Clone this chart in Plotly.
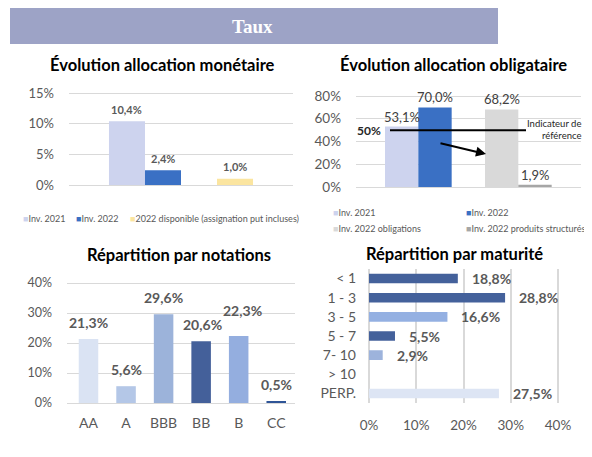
import plotly.graph_objects as go

# the figure is drawn 8 px in from the page corner; size it so the page does not overflow the window
OX, OY = 8, 8
W, H = 592 - 2 * OX, 457 - 2 * OY

# ---------------- data ----------------
mon_series = ["Inv. 2021", "Inv. 2022", "2022 disponible (assignation put incluses)"]
mon_x = ["Inv. 2021", "Inv. 2022", "2022 disponible"]
mon_order = ["Inv. 2021", "Inv. 2022", "·", "2022 disponible"]
mon_values = [10.4, 2.4, 1.0]
mon_colors = ["#CDD3EE", "#3A70C4", "#FBE5A0"]

obl_series = ["Inv. 2021", "Inv. 2022", "Inv. 2022 obligations", "Inv. 2022 produits structurés"]
obl_x = ["Inv. 2021", "Inv. 2022", "Inv. 2022 obligations", "Inv. 2022 produits structurés"]
obl_order = ["Inv. 2021", "Inv. 2022", "·", "Inv. 2022 obligations", "Inv. 2022 produits structurés"]
obl_values = [53.1, 70.0, 68.2, 1.9]
obl_colors = ["#CDD3EE", "#3A70C4", "#D9D9D9", "#A6A6A6"]
indicateur_ref = 50

not_cats = ["AA", "A", "BBB", "BB", "B", "CC"]
not_values = [21.3, 5.6, 29.6, 20.6, 22.3, 0.5]
not_colors = ["#DAE3F3", "#B4C7E7", "#9CB3DA", "#44609A", "#94AEDF", "#2F5597"]
not_label_dy = [17, 17, 17, 17, 26, 17]   # label offsets (px) above bar tops
not_label_dx = [0, 0, 0, 1, 4, 0]

mat_cats = ["< 1", "1 - 3", "3 - 5", "5 - 7", "7- 10", "> 10", "PERP."]
mat_values = [18.8, 28.8, 16.6, 5.5, 2.9, 0.0, 27.5]
mat_colors = ["#44619B", "#44619B", "#94B0E2", "#44619B", "#9DB3DC", "#9DB3DC", "#DDE5F4"]

# -------------- helpers ---------------
def fx(p):
    return (p - OX) / W

def fy(p):
    return 1 - (p - OY) / H

def lab(v):
    return f"{v:.1f}".replace(".", ",") + "%"

GRID = "#D9D9D9"
TICK = "#595959"
FONT = "Lato"

fig = go.Figure()

# top-left : monétaire
for name, x, v, c in zip(mon_series, mon_x, mon_values, mon_colors):
    fig.add_trace(go.Bar(name=name, x=[x], y=[v], marker_color=c, width=1,
                         xaxis="x", yaxis="y", showlegend=False))
# top-right : obligataire
for name, x, v, c in zip(obl_series, obl_x, obl_values, obl_colors):
    fig.add_trace(go.Bar(name=name, x=[x], y=[v], marker_color=c, width=1,
                         xaxis="x2", yaxis="y2", showlegend=False))
# bottom-left : notations
fig.add_trace(go.Bar(x=not_cats, y=not_values, marker_color=not_colors, width=0.52,
                     xaxis="x3", yaxis="y3", showlegend=False))
# bottom-right : maturité
fig.add_trace(go.Bar(y=mat_cats, x=mat_values, orientation="h", marker_color=mat_colors,
                     width=0.5, xaxis="x4", yaxis="y4", showlegend=False))

ann = []
# data labels
for x, v in zip(mon_x, mon_values):
    ann.append(dict(xref="x", yref="y", x=x, y=v, text="<b>" + lab(v) + "</b>", showarrow=False,
                    yanchor="middle", yshift=12, font=dict(size=11, color=TICK)))
for x, v in zip(obl_x, obl_values):
    ann.append(dict(xref="x2", yref="y2", x=x, y=v, text=lab(v), showarrow=False,
                    yanchor="middle", yshift=10, font=dict(size=13, color="#404040")))
for x, v, dy, dx in zip(not_cats, not_values, not_label_dy, not_label_dx):
    ann.append(dict(xref="x3", yref="y3", x=x, y=v, text="<b>" + lab(v) + "</b>", showarrow=False,
                    yanchor="middle", yshift=dy, xshift=dx, font=dict(size=14, color=TICK)))
for y, v in zip(mat_cats, mat_values):
    if v > 0:
        ann.append(dict(xref="x4", yref="y4", x=v, y=y, text="<b>" + lab(v) + "</b>", showarrow=False,
                        xanchor="left", xshift=12, font=dict(size=14, color=TICK)))

# reference indicator
ann.append(dict(xref="x2", yref="y2", x=-0.37, y=indicateur_ref, text="<b>" + f"{indicateur_ref}%" + "</b>",
                showarrow=False, xanchor="right", xshift=-6, font=dict(size=12, color="#262626")))
ann.append(dict(xref="paper", yref="paper", x=fx(583), y=fy(130), text="Indicateur de<br>référence",
                showarrow=False, xanchor="right", yanchor="middle", align="right",
                font=dict(size=9.5, color="#262626")))
ann.append(dict(xref="x2", yref="y2", x=2.53, y=29.0, ax=1.12, ay=38.7, axref="x2", ayref="y2",
                text="", showarrow=True, arrowhead=2, arrowsize=1, arrowwidth=2, arrowcolor="black"))

# titles
titles = [("Évolution allocation monétaire", 162, 65), ("Évolution allocation obligataire", 453, 65),
          ("Répartition par notations", 179, 255), ("Répartition par maturité", 454, 254)]
for t, x, y in titles:
    ann.append(dict(xref="paper", yref="paper", x=fx(x), y=fy(y), text="<b>" + t + "</b>",
                    showarrow=False, xanchor="center", yanchor="middle",
                    font=dict(size=16.5, color="black")))

# header
ann.append(dict(xref="paper", yref="paper", x=fx(252), y=fy(26), text="<b>Taux</b>", showarrow=False,
                xanchor="center", yanchor="middle",
                font=dict(size=19, color="white", family="Liberation Serif")))

# legends (text)
def legend_entry(name, color, x, y):
    return dict(xref="paper", yref="paper", x=fx(x), y=fy(y), showarrow=False,
                xanchor="left", yanchor="middle",
                text=f"<span style='color:{color}'>■</span>{name}",
                font=dict(size=9, color=TICK))

for name, c, x in zip(mon_series, mon_colors, [21, 74, 128]):
    ann.append(legend_entry(name, c, x, 218))
for name, c, (x, y) in zip(obl_series, obl_colors, [(331, 212), (464, 212), (331, 228), (464, 228)]):
    ann.append(legend_entry(name, c, x, y))

shapes = [
    dict(type="rect", xref="paper", yref="paper", x0=fx(10), x1=fx(498), y0=fy(44), y1=fy(7),
         fillcolor="#9DA3C6", line=dict(width=0), layer="below"),
    dict(type="line", xref="x2", yref="y2", x0=-0.35, x1=3.73, y0=indicateur_ref, y1=indicateur_ref,
         line=dict(color="black", width=2)),
]

tickfont = dict(size=13, color=TICK)
common_y = dict(showgrid=True, gridcolor=GRID, gridwidth=1.3, zeroline=True, zerolinecolor=GRID,
                zerolinewidth=1.3, ticksuffix="%", ticks="", tickfont=tickfont, showline=False,
                ticklabelstandoff=14, automargin=False)

fig.update_layout(
    template="none",
    width=W, height=H, margin=dict(l=0, r=0, t=0, b=0, pad=0, autoexpand=False),
    paper_bgcolor="white", plot_bgcolor="white",
    font=dict(family=FONT, color=TICK),
    barmode="overlay", showlegend=False,
    annotations=ann, shapes=shapes,
    xaxis=dict(domain=[fx(69), fx(293)], type="category", categoryorder="array",
               categoryarray=mon_order, range=[-1.61, 4.61], showticklabels=False,
               showgrid=False, zeroline=False, anchor="y", automargin=False),
    yaxis=dict(domain=[fy(185), fy(185 - 15.2 * 92 / 15)], range=[0, 15.2], dtick=5,
               anchor="x", **common_y),
    xaxis2=dict(domain=[fx(356), fx(581)], type="category", categoryorder="array",
                categoryarray=obl_order, range=[-1.37, 5.38], showticklabels=False,
                showgrid=False, zeroline=False, anchor="y2", automargin=False),
    yaxis2=dict(domain=[fy(187), fy(187 - 82 * 1.1375)], range=[0, 82], dtick=20,
                anchor="x2", **{**common_y, "tickfont": dict(size=13.5, color=TICK)}),
    xaxis3=dict(domain=[fx(67), fx(295)], type="category", showgrid=False, zeroline=False,
                ticks="", tickfont=dict(size=14, color=TICK), ticklabelstandoff=10, anchor="y3",
                automargin=False),
    yaxis3=dict(domain=[fy(403), fy(403 - 41 * 3)], range=[0, 41], dtick=10,
                anchor="x3", **{**common_y, "tickfont": dict(size=12.5, color=TICK)}),
    xaxis4=dict(domain=[fx(369), fx(369 + 40.5 * 4.725)], range=[0, 40.5], dtick=10,
                ticksuffix="%", showgrid=True, gridcolor=GRID, gridwidth=1.5, zeroline=True,
                zerolinecolor=GRID, zerolinewidth=1.5, ticks="", tickfont=dict(size=13.5, color=TICK),
                ticklabelstandoff=12, anchor="y4", automargin=False),
    yaxis4=dict(domain=[fy(403), fy(269)], type="category", categoryorder="array",
                categoryarray=mat_cats, range=[6.5, -0.5], showgrid=False, zeroline=False,
                ticks="", tickfont=dict(size=14, color=TICK), ticklabelstandoff=12, anchor="x4",
                automargin=False),
)

fig.write_html("out.html")
